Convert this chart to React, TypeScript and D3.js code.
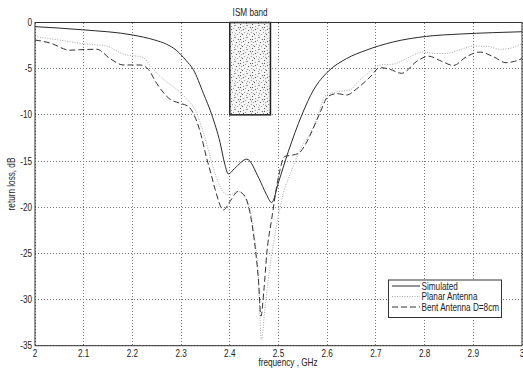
// Return loss comparison chart: simulated vs measured planar and bent antennas
import React from 'react';
import * as d3 from 'd3';

const simFreq = [2.0, 2.1, 2.2, 2.246, 2.27, 2.29, 2.31, 2.325, 2.346, 2.363, 2.38, 2.39, 2.397, 2.41, 2.435, 2.46, 2.475, 2.486, 2.5, 2.52, 2.548, 2.572, 2.602, 2.64, 2.68, 2.736, 2.804, 2.873, 2.94, 3.0];
const simLoss = [-0.45, -0.8, -1.35, -1.9, -2.35, -3.0, -4.1, -5.1, -7.7, -10.0, -13.0, -15.4, -16.4, -15.8, -14.8, -16.9, -18.6, -19.5, -17.3, -14.0, -10.0, -7.3, -5.3, -3.9, -3.0, -2.1, -1.5, -1.25, -1.1, -1.0];

const planarFreq = [2.0, 2.05, 2.1, 2.15, 2.18, 2.222, 2.24, 2.26, 2.285, 2.31, 2.33, 2.345, 2.36, 2.376, 2.397, 2.417, 2.44, 2.45, 2.458, 2.465, 2.472, 2.485, 2.496, 2.51, 2.527, 2.544, 2.565, 2.58, 2.595, 2.62, 2.647, 2.664, 2.688, 2.708, 2.736, 2.763, 2.797, 2.82, 2.845, 2.87, 2.9, 2.93, 2.955, 2.975, 3.0];
const planarLoss = [-1.5, -1.9, -2.3, -2.6, -3.4, -3.8, -4.9, -6.0, -7.0, -8.2, -9.6, -11.8, -14.6, -17.3, -18.7, -18.3, -20.0, -23.0, -27.0, -34.4, -31.0, -25.5, -22.0, -18.5, -16.0, -13.8, -12.0, -10.3, -8.0, -7.5, -7.3, -6.4, -5.3, -4.6, -4.5, -3.9, -3.2, -3.35, -3.35, -3.0, -2.55, -2.6, -2.9, -2.8, -2.3];

const bentFreq = [2.0, 2.03, 2.072, 2.092, 2.127, 2.154, 2.181, 2.216, 2.233, 2.25, 2.277, 2.298, 2.315, 2.339, 2.352, 2.362, 2.37, 2.387, 2.4, 2.417, 2.431, 2.441, 2.452, 2.459, 2.464, 2.47, 2.476, 2.486, 2.5, 2.513, 2.53, 2.543, 2.553, 2.565, 2.585, 2.602, 2.62, 2.64, 2.66, 2.688, 2.708, 2.725, 2.753, 2.784, 2.808, 2.835, 2.859, 2.886, 2.914, 2.941, 2.967, 2.985, 3.0];
const bentLoss = [-1.9, -2.2, -3.0, -2.95, -2.9, -3.9, -4.6, -4.6, -5.1, -6.6, -8.3, -8.75, -9.1, -11.8, -14.6, -16.5, -18.1, -20.3, -19.4, -18.3, -18.8, -20.5, -24.3, -28.0, -31.8, -29.0, -25.0, -21.3, -16.7, -14.5, -14.35, -14.1, -13.4, -12.2, -9.8, -8.0, -7.7, -7.85, -7.2, -5.9, -4.9, -5.0, -5.5, -4.2, -3.65, -4.2, -4.65, -3.7, -3.2, -3.7, -4.35, -4.2, -3.9];

const xTicks = [2, 2.1, 2.2, 2.3, 2.4, 2.5, 2.6, 2.7, 2.8, 2.9, 3];
const yTicks = [0, -5, -10, -15, -20, -25, -30, -35];
const ismBand = [2.4, 2.4835];
const ismLoss = [0, -10];

const legendNames = ['Simulated', 'Planar Antenna', 'Bent Antenna D=8cm'];

// fixed, irregular speckle tile for the ISM band fill
const speckle = [[0, 0], [7, 1], [3, 2], [10, 3], [5, 4], [1, 6], [8, 6], [11, 8], [4, 8], [2, 10], [9, 10], [6, 11], [0, 3], [6, 1], [11, 5], [3, 5], [7, 9], [1, 9]];

const W = 523;
const H = 371;
const margin = { top: 22.5, right: 1, bottom: 25.3, left: 35 };
const font = '"Liberation Sans", Arial, sans-serif';

// narrow helvetica look: squeeze text horizontally
const NText = ({ x, y, anchor = 'start', children, rotate = 0 }: any) => (
    <text transform={`translate(${x},${y}) rotate(${rotate}) scale(0.82,1)`} textAnchor={anchor}
        fontSize={10} fill="#222">{children}</text>
);

export default function App() {
    const x = d3.scaleLinear().domain([2, 3]).range([margin.left, W - margin.right]);
    const y = d3.scaleLinear().domain([-35, 0]).range([H - margin.bottom, margin.top]);

    const makeLine = (fs: number[], vs: number[]) =>
        d3.line<number>()
            .x((_, i) => x(fs[i]))
            .y(d => y(d))
            .curve(d3.curveMonotoneX)(vs) || '';

    const series = [
        { d: makeLine(simFreq, simLoss), stroke: '#2a2a2a', dash: 'none' },
        { d: makeLine(planarFreq, planarLoss), stroke: '#a8a8a8', dash: '1,1.5' },
        { d: makeLine(bentFreq, bentLoss), stroke: '#333', dash: '6,3' },
    ];

    const left = x(2), right = x(3), top = y(0), bottom = y(-35);

    return (
        <svg width={W} height={H} style={{ position: 'absolute', left: 0, top: 0, background: '#fff' }} fontFamily={font}>
            <defs>
                <pattern id="ism-speckle" width={12} height={12} patternUnits="userSpaceOnUse">
                    <rect width={12} height={12} fill="#f4f4f4" />
                    {speckle.map(([px, py], i) => (
                        <rect key={i} x={px} y={py} width={1} height={1} fill={i % 3 === 0 ? '#555' : '#999'} />
                    ))}
                </pattern>
            </defs>

            <rect x={left} y={top} width={right - left} height={bottom - top} fill="#fff" />

            {/* grid */}
            {xTicks.map(t => (
                <line key={'gx' + t} x1={x(t)} x2={x(t)} y1={top} y2={bottom}
                    stroke="#777" strokeWidth={1} strokeDasharray="1,2" shapeRendering="crispEdges" />
            ))}
            {yTicks.map(t => (
                <line key={'gy' + t} x1={left} x2={right} y1={y(t)} y2={y(t)}
                    stroke="#777" strokeWidth={1} strokeDasharray="1,2" shapeRendering="crispEdges" />
            ))}

            {/* ISM band */}
            <rect x={x(ismBand[0])} y={y(ismLoss[0])} width={x(ismBand[1]) - x(ismBand[0])}
                height={y(ismLoss[1]) - y(ismLoss[0])} fill="url(#ism-speckle)" stroke="#222" strokeWidth={1.5} />
            <NText x={(x(ismBand[0]) + x(ismBand[1])) / 2} y={15.5} anchor="middle">ISM band</NText>

            {/* curves */}
            {series.map((s, i) => (
                <path key={i} d={s.d} fill="none" stroke={s.stroke} strokeWidth={1}
                    strokeDasharray={s.dash === 'none' ? undefined : s.dash} />
            ))}

            {/* frame */}
            <rect x={left} y={top} width={right - left} height={bottom - top} fill="none" stroke="#333" strokeWidth={1} />

            {/* tick labels */}
            {xTicks.map(t => (
                <NText key={'tx' + t} x={x(t)} y={357} anchor="middle">{d3.format('~g')(t)}</NText>
            ))}
            {yTicks.map(t => (
                <NText key={'ty' + t} x={32} y={y(t) + 3.5} anchor="end">{t}</NText>
            ))}

            <NText x={288} y={366} anchor="middle">frequency , GHz</NText>
            <NText x={15} y={184} anchor="middle" rotate={-90}>return loss, dB</NText>

            {/* legend */}
            <g>
                <rect x={388.5} y={280} width={113} height={37.5} fill="#fff" stroke="#333" strokeWidth={1} />
                {legendNames.map((name, i) => {
                    const ly = 286 + i * 10.5;
                    const s = series[i];
                    return (
                        <g key={name}>
                            <line x1={392} x2={420} y1={ly} y2={ly} stroke={s.stroke} strokeWidth={1}
                                strokeDasharray={s.dash === 'none' ? undefined : s.dash} />
                            <NText x={421.5} y={ly + 3.5}>{name}</NText>
                        </g>
                    );
                })}
            </g>
        </svg>
    );
}
